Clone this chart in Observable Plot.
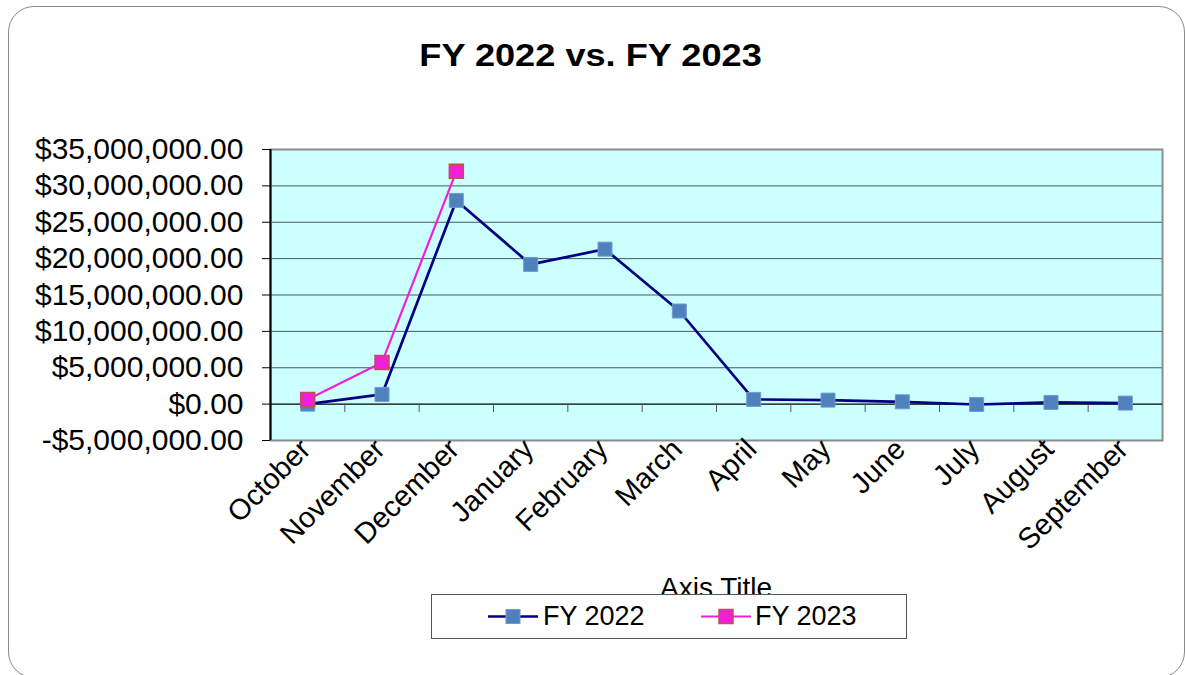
<!DOCTYPE html>
<html>
<head>
<meta charset="utf-8">
<script src="https://cdn.jsdelivr.net/npm/d3@7"></script>
<script src="https://cdn.jsdelivr.net/npm/@observablehq/plot@0.6"></script>
<style>
  html, body { margin: 0; padding: 0; background: #fff; }
  body { width: 1185px; height: 675px; overflow: hidden; position: relative; font-family: "Liberation Sans", Arial, sans-serif; }
  #frame { position: absolute; left: 8px; top: 6px; width: 1177px; height: 672px; border: 1.5px solid #8a8a8a; border-radius: 26px; box-sizing: border-box; }
  #chart { position: absolute; left: 0; top: 0; }
  #title { position: absolute; left: 0; top: 0; width: 1185px; height: 80px; font-weight: bold; font-size: 32px; line-height: 1; }
  #title span { display: inline-block; transform: scaleX(1.13); position: absolute; left: 590px; top: 39px; transform-origin: center; white-space: nowrap; }
  #axistitle { position: absolute; left: 716px; top: 572px; font-size: 28px; transform: translateX(-50%); white-space: nowrap; }
  #legend { position: absolute; left: 431px; top: 594px; width: 476px; height: 45px; border: 1px solid #555; background: #fff; box-sizing: border-box; }
  .item { position: absolute; top: 0; height: 43px; }
  .item svg { position: absolute; top: 0; left: 0; }
  .item .lab { position: absolute; top: 6px; font-size: 27px; white-space: nowrap; }
</style>
</head>
<body>
<div id="frame"></div>
<div id="chart"></div>
<div id="title"><span id="titletext">FY 2022 vs. FY 2023</span></div>
<div id="axistitle">Axis Title</div>
<div id="legend"></div>
<script>
const months = ["October", "November", "December", "January", "February", "March", "April", "May", "June", "July", "August", "September"];
const fy2022 = [0, 1.33e6, 28.0e6, 19.2e6, 21.3e6, 12.8e6, 0.65e6, 0.55e6, 0.32e6, -0.05e6, 0.23e6, 0.14e6];
const fy2023 = [0.65e6, 5.73e6, 32.0e6];
const yTicks = [-5e6, 0, 5e6, 10e6, 15e6, 20e6, 25e6, 30e6, 35e6];
const seriesNames = ["FY 2022", "FY 2023"];

const colors = {
  "FY 2022": {line: "#000080", fill: "#4f81bd", stroke: "#6f9ad0"},
  "FY 2023": {line: "#f01fd8", fill: "#f01fd8", stroke: "#c0504d"}
};

const rows = [];
fy2022.forEach((v, i) => rows.push({series: "FY 2022", i, month: months[i], value: v}));
fy2023.forEach((v, i) => rows.push({series: "FY 2023", i, month: months[i], value: v}));
const r22 = rows.filter(d => d.series === "FY 2022");
const r23 = rows.filter(d => d.series === "FY 2023");
const idx = months.map((m, i) => i);
const bounds = months.slice(0, -1).map((m, i) => i + 0.5);

const fmt = d => (d < 0 ? "-" : "") + "$" + d3.format(",.2f")(Math.abs(d));

const plot = Plot.plot({
  width: 1185,
  height: 675,
  marginLeft: 270,
  marginRight: 23,
  marginTop: 149,
  marginBottom: 235,
  style: {fontFamily: "'Liberation Sans', Arial, sans-serif", background: "transparent", color: "#000"},
  x: {type: "linear", domain: [-0.5, 11.5], label: null},
  y: {domain: [-5e6, 35e6], label: null},
  marks: [
    Plot.frame({fill: "#ccffff", stroke: "none"}),
    Plot.ruleY(yTicks.filter(d => d !== 0 && d !== 35e6 && d !== -5e6), {stroke: "#4a5a5a", strokeWidth: 1}),
    Plot.frame({stroke: "#8c8c8c", strokeWidth: 2, fill: "none"}),
    Plot.ruleY([0], {stroke: "#000", strokeWidth: 1.2}),
    Plot.ruleX(bounds, {y1: 0, y2: -1.15e6, stroke: "#555", strokeWidth: 1}),
    Plot.ruleX([-0.5], {stroke: "#000", strokeWidth: 2}),
    Plot.axisY({ticks: yTicks, tickFormat: fmt, tickSize: 8, tickPadding: 19, fontSize: 30, stroke: "#000", label: null}),
    Plot.axisX({ticks: idx, tickFormat: i => months[i], tickRotate: -45, tickSize: 0, tickPadding: 4, fontSize: 29, dx: -2, label: null}),
    Plot.line(r22, {x: "i", y: "value", stroke: colors["FY 2022"].line, strokeWidth: 2.7}),
    Plot.line(r23, {x: "i", y: "value", stroke: colors["FY 2023"].line, strokeWidth: 2.2}),
    Plot.dot(r22, {x: "i", y: "value", symbol: "square", r: 7.9, fill: colors["FY 2022"].fill, stroke: colors["FY 2022"].stroke, strokeWidth: 1}),
    Plot.dot(r23, {x: "i", y: "value", symbol: "square", r: 7.9, fill: colors["FY 2023"].fill, stroke: colors["FY 2023"].stroke, strokeWidth: 1.5})
  ]
});
document.getElementById("chart").appendChild(plot);

// title centering
const t = document.getElementById("titletext");
t.style.left = (590 - t.offsetWidth / 2) + "px";

// legend
const legend = document.getElementById("legend");
const itemPos = [{left: 55, text: 111}, {left: 268, text: 323}];
seriesNames.forEach((name, k) => {
  const c = colors[name];
  const div = document.createElement("div");
  div.className = "item";
  div.style.left = itemPos[k].left + "px";
  div.innerHTML = `<svg width="52" height="43"><line x1="1" x2="51" y1="21.5" y2="21.5" stroke="${c.line}" stroke-width="${k === 0 ? 2.7 : 2.2}"/><rect x="19" y="14.5" width="14" height="14" fill="${c.fill}" stroke="${c.stroke}" stroke-width="${k === 0 ? 1 : 1.5}"/></svg><span class="lab" style="left:${itemPos[k].text - itemPos[k].left}px">${name}</span>`;
  legend.appendChild(div);
});
</script>
</body>
</html>
